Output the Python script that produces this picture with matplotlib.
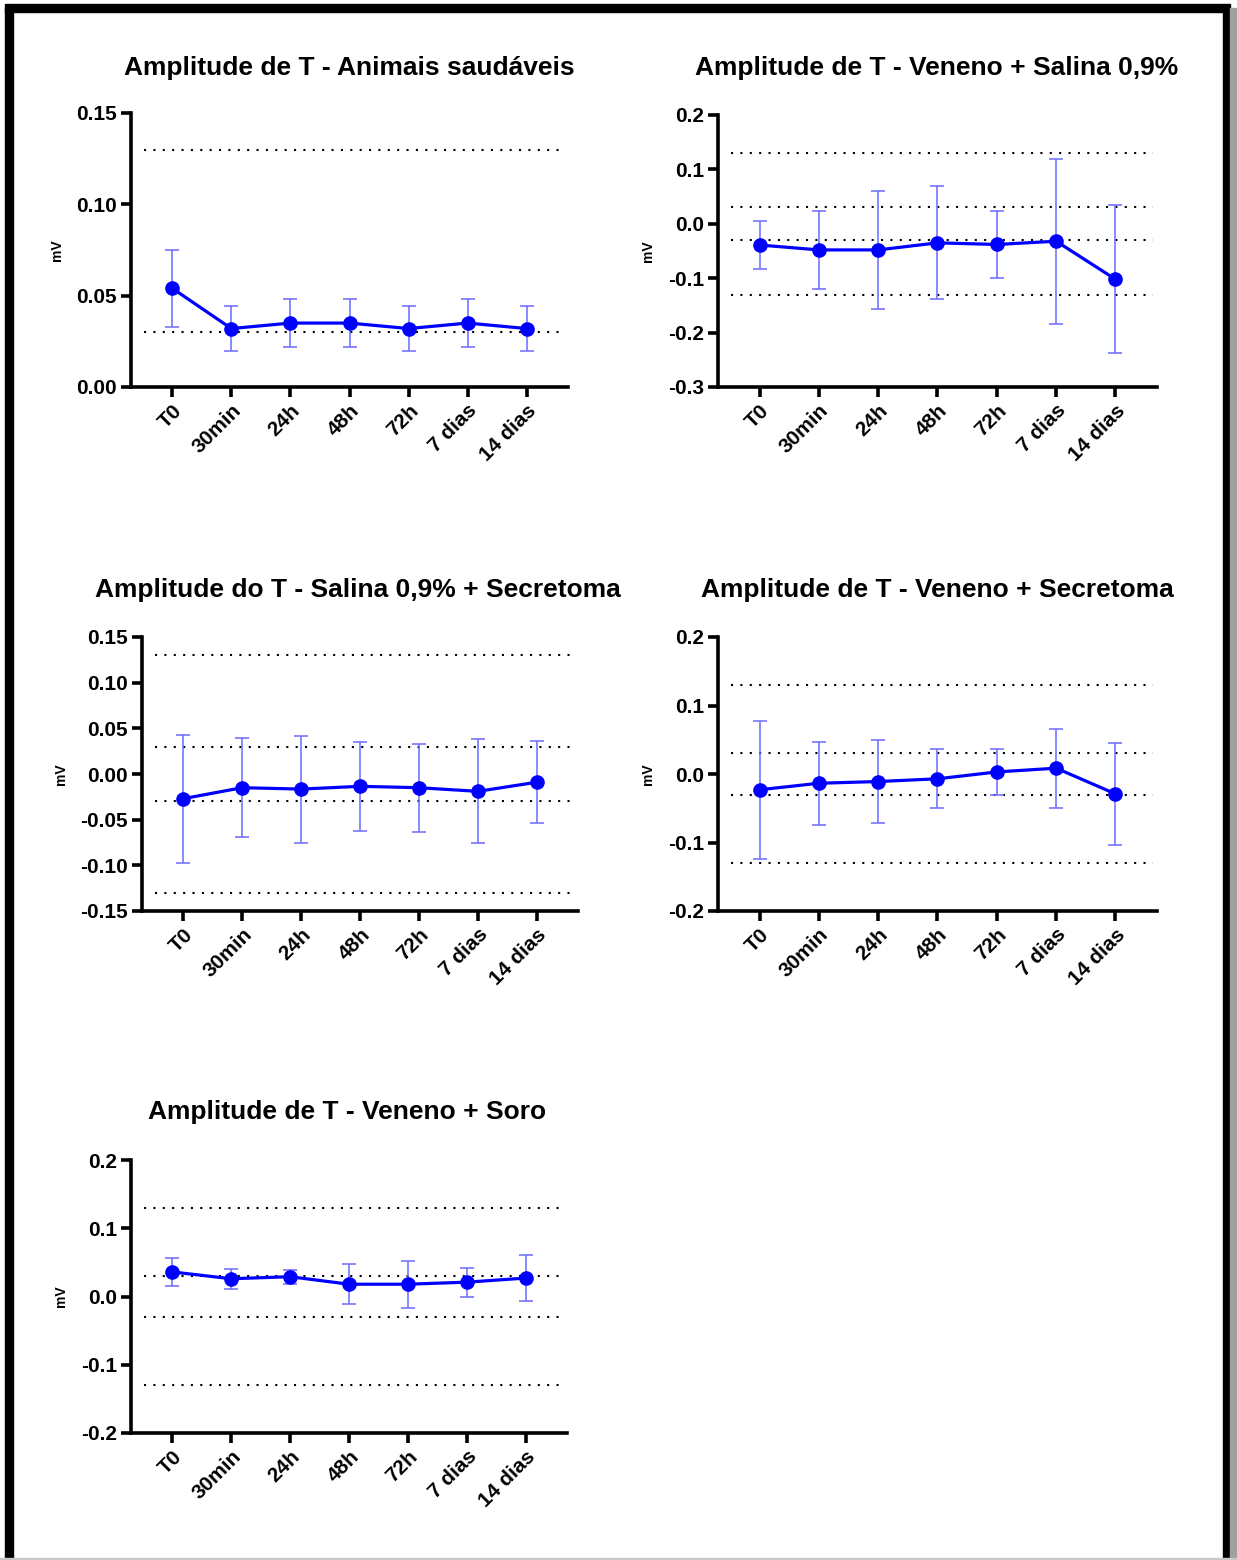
import matplotlib
matplotlib.use("Agg")
import matplotlib.pyplot as plt
import numpy as np
from matplotlib.patches import Rectangle
from matplotlib.ticker import FormatStrFormatter

plt.rcParams["font.family"] = ["Liberation Sans", "DejaVu Sans"]
plt.rcParams["font.weight"] = "bold"
plt.rcParams["axes.unicode_minus"] = False

# Time points
timepoints = ["T0", "30min", "24h", "48h", "72h", "7 dias", "14 dias"]

# Mean and error (mV) for each group
saudaveis_mean = [0.054, 0.032, 0.035, 0.035, 0.032, 0.035, 0.032]
saudaveis_err = [0.021, 0.0125, 0.013, 0.013, 0.0125, 0.013, 0.0125]

veneno_salina_mean = [-0.039, -0.048, -0.048, -0.035, -0.038, -0.032, -0.102]
veneno_salina_err = [0.045, 0.071, 0.109, 0.104, 0.062, 0.152, 0.136]

salina_secretoma_mean = [-0.027, -0.015, -0.0165, -0.0135, -0.015, -0.019, -0.009]
salina_secretoma_err = [0.070, 0.054, 0.0585, 0.049, 0.048, 0.057, 0.045]

veneno_secretoma_mean = [-0.023, -0.0135, -0.011, -0.007, 0.003, 0.0085, -0.029]
veneno_secretoma_err = [0.101, 0.0605, 0.061, 0.043, 0.033, 0.0575, 0.074]

veneno_soro_mean = [0.036, 0.026, 0.029, 0.018, 0.018, 0.021, 0.027]
veneno_soro_err = [0.020, 0.015, 0.0105, 0.0295, 0.0345, 0.021, 0.034]

# Reference (dotted) lines
ref_saudaveis = [0.13, 0.03]
ref_others = [0.13, 0.03, -0.03, -0.13]

W, H = 1237, 1560
fig = plt.figure(figsize=(W / 100, H / 100), dpi=100)


def box(left, top, right, bottom):
    return [left / W, 1 - bottom / H, (right - left) / W, (bottom - top) / H]


panels = [
    # title, means, errors, refs, ylim, yticks, fmt, axes box, title centre x, title y
    ("Amplitude de T - Animais saudáveis", saudaveis_mean, saudaveis_err,
     ref_saudaveis, (0, 0.15), [0, 0.05, 0.10, 0.15], "%.2f",
     (131, 113, 568, 387), 349, 68),
    ("Amplitude de T - Veneno + Salina 0,9%", veneno_salina_mean, veneno_salina_err,
     ref_others, (-0.3, 0.2), [-0.3, -0.2, -0.1, 0.0, 0.1, 0.2], "%.1f",
     (718, 115, 1157, 387), 937, 68),
    ("Amplitude do T - Salina 0,9% + Secretoma", salina_secretoma_mean, salina_secretoma_err,
     ref_others, (-0.15, 0.15), [-0.15, -0.10, -0.05, 0.0, 0.05, 0.10, 0.15], "%.2f",
     (142, 637, 578, 911), 358, 590),
    ("Amplitude de T - Veneno + Secretoma", veneno_secretoma_mean, veneno_secretoma_err,
     ref_others, (-0.2, 0.2), [-0.2, -0.1, 0.0, 0.1, 0.2], "%.1f",
     (718, 637, 1157, 911), 937, 590),
    ("Amplitude de T - Veneno + Soro", veneno_soro_mean, veneno_soro_err,
     ref_others, (-0.2, 0.2), [-0.2, -0.1, 0.0, 0.1, 0.2], "%.1f",
     (131, 1160, 567, 1433), 347, 1112),
]

x = np.arange(len(timepoints))

for title, mean, err, refs, ylim, yticks, fmt, b, tx, ty in panels:
    ax = fig.add_axes(box(*b))
    ax.set_xlim(-0.7, 6.7)
    ax.set_ylim(*ylim)

    for r in refs:
        ax.axhline(r, xmin=0.03, xmax=0.99, color="black", lw=1.5,
                   linestyle=(0, (1, 3.5)), zorder=1)

    ax.errorbar(x, mean, yerr=err, fmt="none", ecolor="#6a6aff", elinewidth=1.1,
                capsize=5, capthick=1.1, zorder=2)
    ax.plot(x, mean, color="#0000ff", lw=2.3, marker="o", markersize=9.5, zorder=3)

    ax.spines["top"].set_visible(False)
    ax.spines["right"].set_visible(False)
    ax.spines["left"].set_linewidth(2.6)
    ax.spines["bottom"].set_linewidth(2.6)
    ax.tick_params(direction="out", length=7, width=2.6, labelsize=15, pad=3)

    ax.set_xticks(x)
    ax.set_xticklabels(timepoints, rotation=45, ha="right", rotation_mode="anchor",
                       fontweight="bold")
    ax.set_yticks(yticks)
    ax.yaxis.set_major_formatter(FormatStrFormatter(fmt))
    for lab in ax.get_yticklabels():
        lab.set_fontweight("bold")

    ax.set_ylabel("mV", fontsize=10, fontweight="bold", labelpad=9)

    fig.text(tx / W, 1 - ty / H, title, ha="center", va="center",
             fontsize=19, fontweight="bold")

# Frame around the figure
fig.patches.append(Rectangle((5 / W, 1 - 1560 / H), 8 / W, (1556 - 4) / H,
                             transform=fig.transFigure, color="black"))
fig.patches.append(Rectangle((5 / W, 1 - 12 / H), (1230 - 5) / W, 8 / H,
                             transform=fig.transFigure, color="black"))
fig.patches.append(Rectangle((1223 / W, 1 - 1560 / H), 7 / W, (1556 - 4) / H,
                             transform=fig.transFigure, color="black"))
fig.patches.append(Rectangle((1230 / W, 1 - 1560 / H), 6 / W, (1552) / H,
                             transform=fig.transFigure, color="#a0a0a0"))
fig.patches.append(Rectangle((0, 0), 1, 2 / H,
                             transform=fig.transFigure, color="#c8c8c8"))

fig.savefig("out.png", dpi=100)
